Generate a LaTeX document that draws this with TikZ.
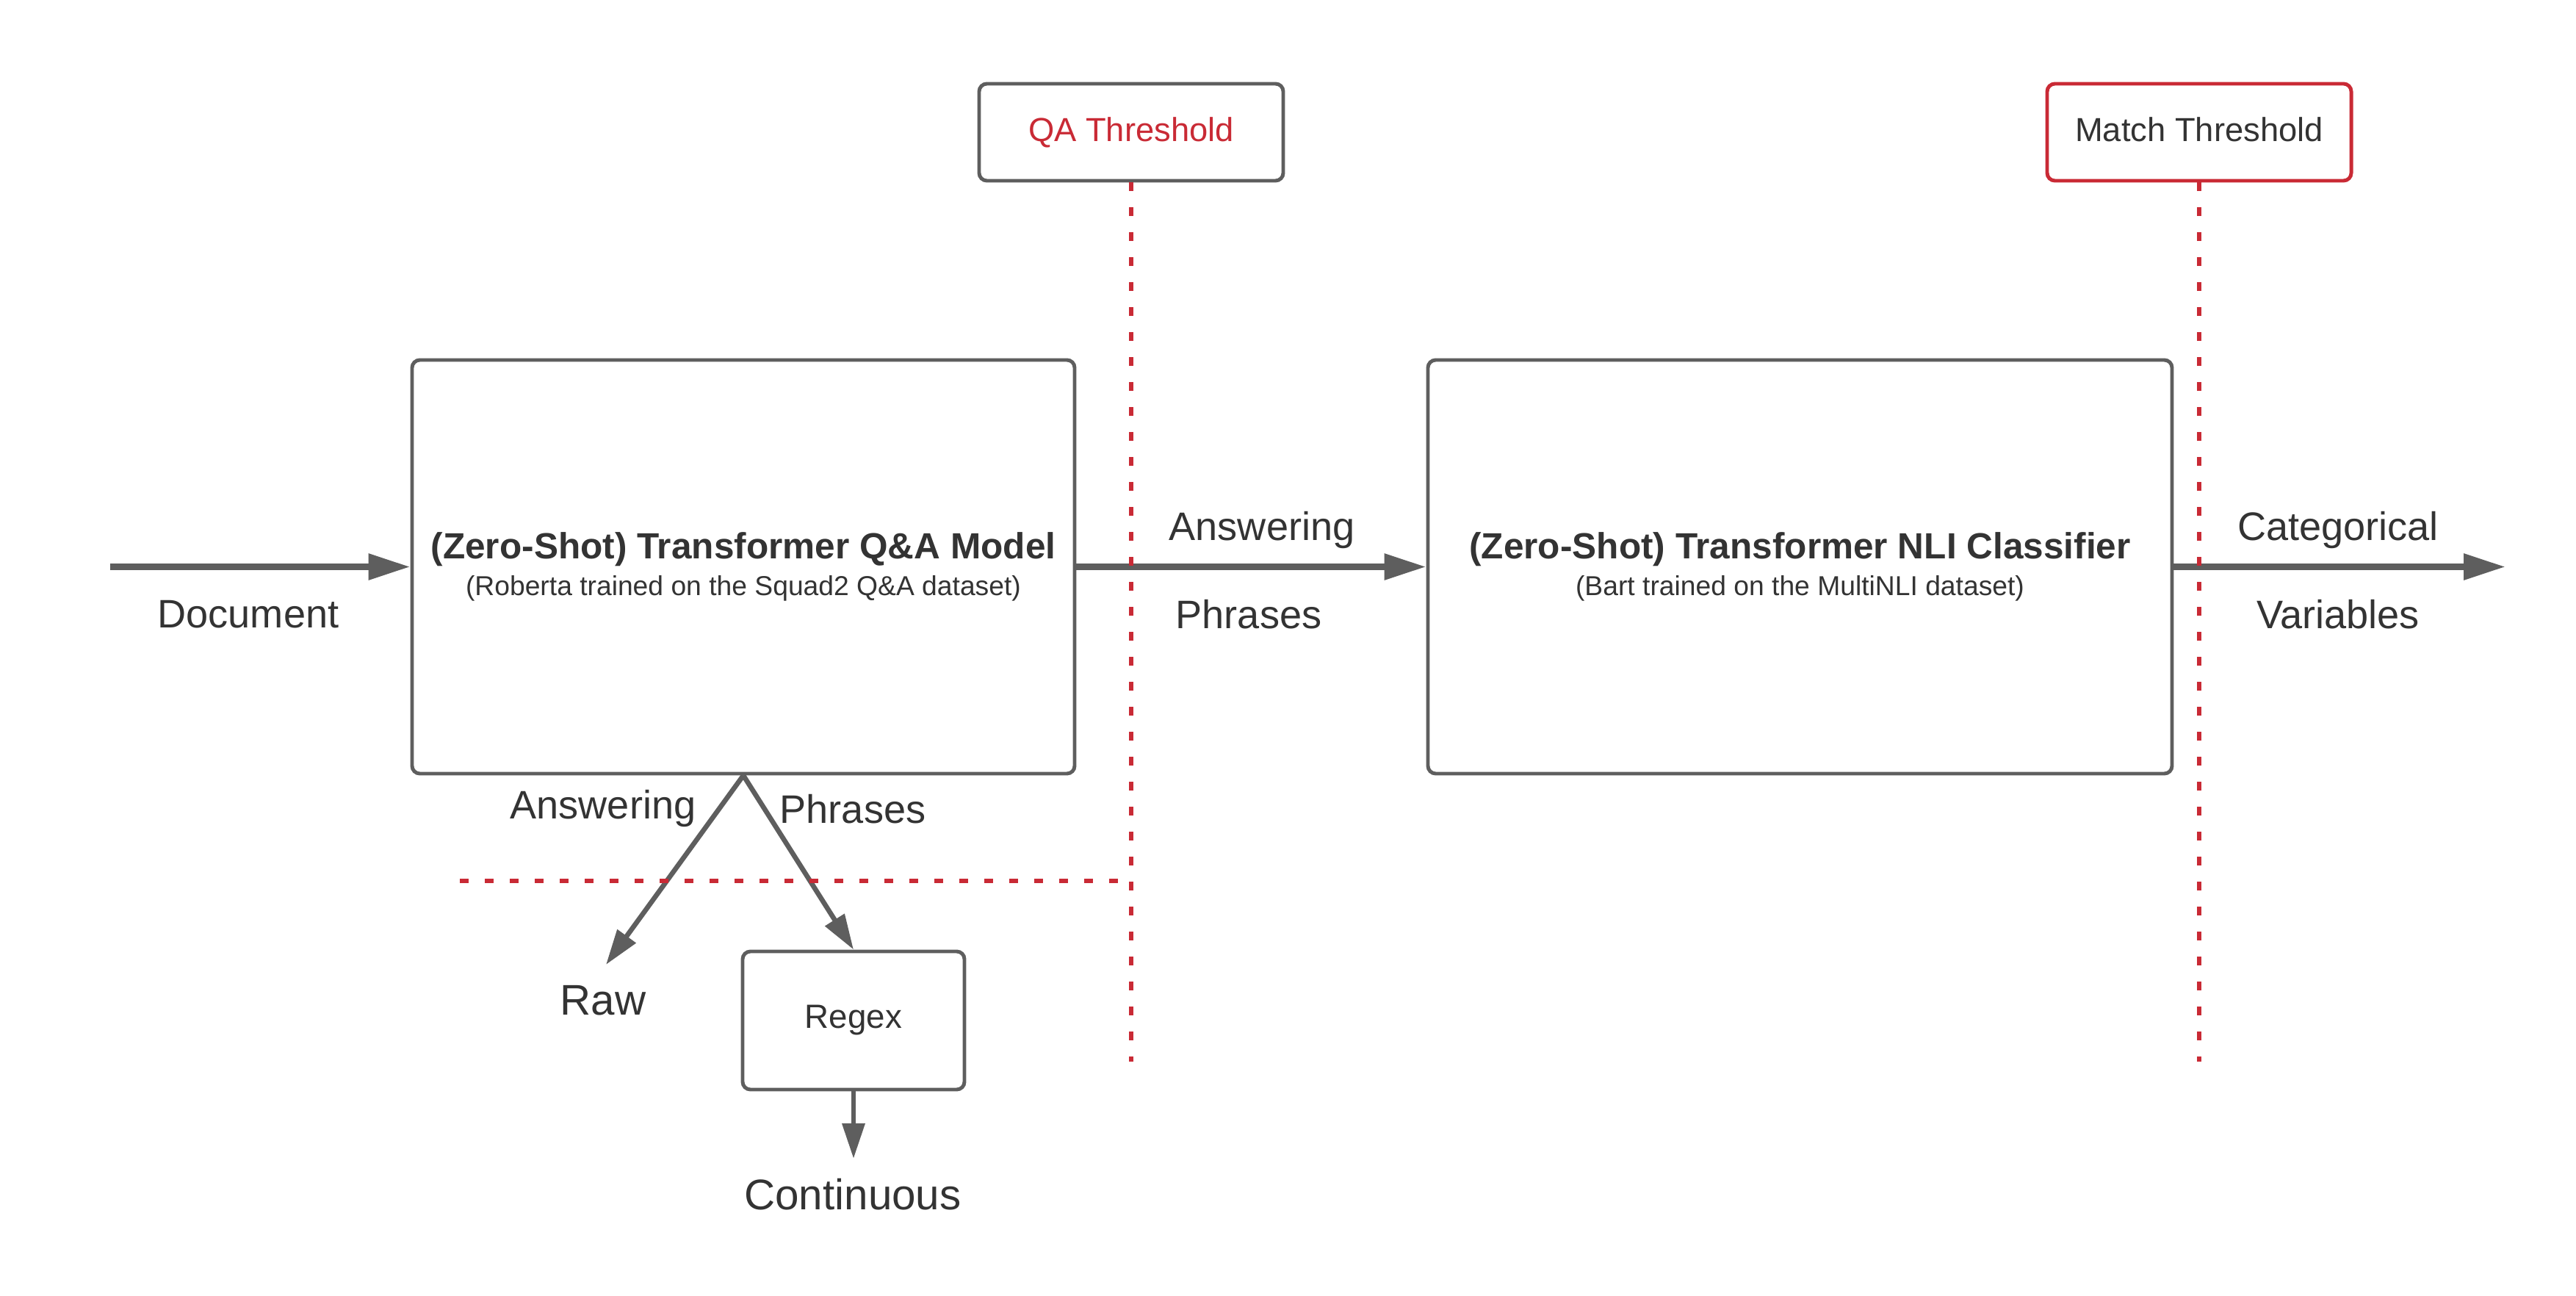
\documentclass[tikz,border=0pt]{standalone}
\usepackage{fontspec}
\setmainfont{Liberation Sans}
\usetikzlibrary{arrows.meta}
\definecolor{linegray}{HTML}{5E5E5E}
\definecolor{textgray}{HTML}{333333}
\definecolor{cutred}{HTML}{C92A35}

\begin{document}
\begin{tikzpicture}[
    box/.style={draw=linegray, line width=1.4pt, rounded corners=3pt, fill=white, text=textgray, align=center},
    flow/.style={draw=linegray, line width=2.6pt, -{Triangle[length=0.57cm,width=0.34cm]}},
    branch/.style={draw=linegray, line width=1.9pt, -{Triangle[length=0.48cm,width=0.3cm]}},
    cutoff/.style={draw=cutred, line width=1.5pt, dash pattern=on 0.12cm off 0.22cm},
    lbl/.style={text=textgray, font=\fontsize{15.4}{18}\selectfont},
    outlbl/.style={lbl, font=\fontsize{16.6}{19}\selectfont},
]
    \def\mainy{9.915}
    \def\boxheight{5.63}

    \useasboundingbox (0,0) rectangle (35.07,17.63);

    % Draw the two model boxes
    \node[box, minimum width=9.02cm, minimum height=\boxheight cm, font=\fontsize{14.1}{14}\selectfont] (qamodel) at (10.12,\mainy)
        {\bfseries (Zero-Shot) Transformer Q\&A Model\\{\fontsize{10.6}{12}\selectfont (Roberta trained on the Squad2 Q\&A dataset)}};
    \node[box, minimum width=10.13cm, minimum height=\boxheight cm, font=\fontsize{14.1}{14}\selectfont] (nlimodel) at (24.505,\mainy)
        {\bfseries (Zero-Shot) Transformer NLI Classifier\\{\fontsize{10.6}{12}\selectfont (Bart trained on the MultiNLI dataset)}};

    % Threshold boxes
    \node[box, minimum width=4.14cm, minimum height=1.32cm, text depth=0.22em, text=cutred, font=\fontsize{12.9}{15}\selectfont] (qathr) at (15.40,15.83) {QA Threshold};
    \node[box, draw=cutred, minimum width=4.14cm, minimum height=1.32cm, text depth=0.22em, font=\fontsize{12.9}{15}\selectfont] (matchthr) at (29.94,15.83) {Match Threshold};

    \node[box, minimum width=3.02cm, minimum height=1.88cm, font=\fontsize{13}{15}\selectfont] (regex) at (11.62,3.74) {Regex};

    % Main flow
    \coordinate (docin) at (1.50,\mainy);
    \coordinate (catout) at (34.11,\mainy);
    \draw[flow] (docin) -- (qamodel.west);
    \draw[flow] (qamodel.east) -- (nlimodel.west);
    \draw[flow] (nlimodel.east) -- (catout);

    \node[lbl] (doclbl) at (3.38,9.27) {Document};
    \node[lbl] (anslbl) at (17.18,10.41) {Answering};
    \node[lbl] (phrlbl) at (17.00,9.27) {Phrases};
    \node[lbl] (catlbl) at (31.83,10.41) {Categorical};
    \node[lbl] (varlbl) at (31.83,9.27) {Variables};

    % Split below the Q&A model
    \coordinate (rawtip) at (8.25,4.50);
    \coordinate (conttip) at (11.62,1.86);
    \draw[branch] (qamodel.south) -- (rawtip);
    \draw[branch] (qamodel.south) -- (regex.north);
    \draw[branch] (regex.south) -- (conttip);

    \node[lbl] (ans2lbl) at (8.21,6.62) {Answering};
    \node[lbl] (phr2lbl) at (11.61,6.62) {Phrases};
    \node[outlbl] (rawlbl) at (8.21,4.01) {Raw};
    \node[outlbl] (contlbl) at (11.61,1.37) {Continuous};

    % Threshold cut-off lines
    \coordinate (qacut) at (15.40,3.18);
    \coordinate (matchcut) at (29.94,3.18);
    \coordinate (hcutleft) at (6.26,5.64);
    \coordinate (hcutright) at (15.40,5.64);
    \draw[cutoff] (qathr.south) -- (qacut);
    \draw[cutoff] (matchthr.south) -- (matchcut);
    \draw[cutoff] (hcutleft) -- (hcutright);
\end{tikzpicture}
\end{document}
